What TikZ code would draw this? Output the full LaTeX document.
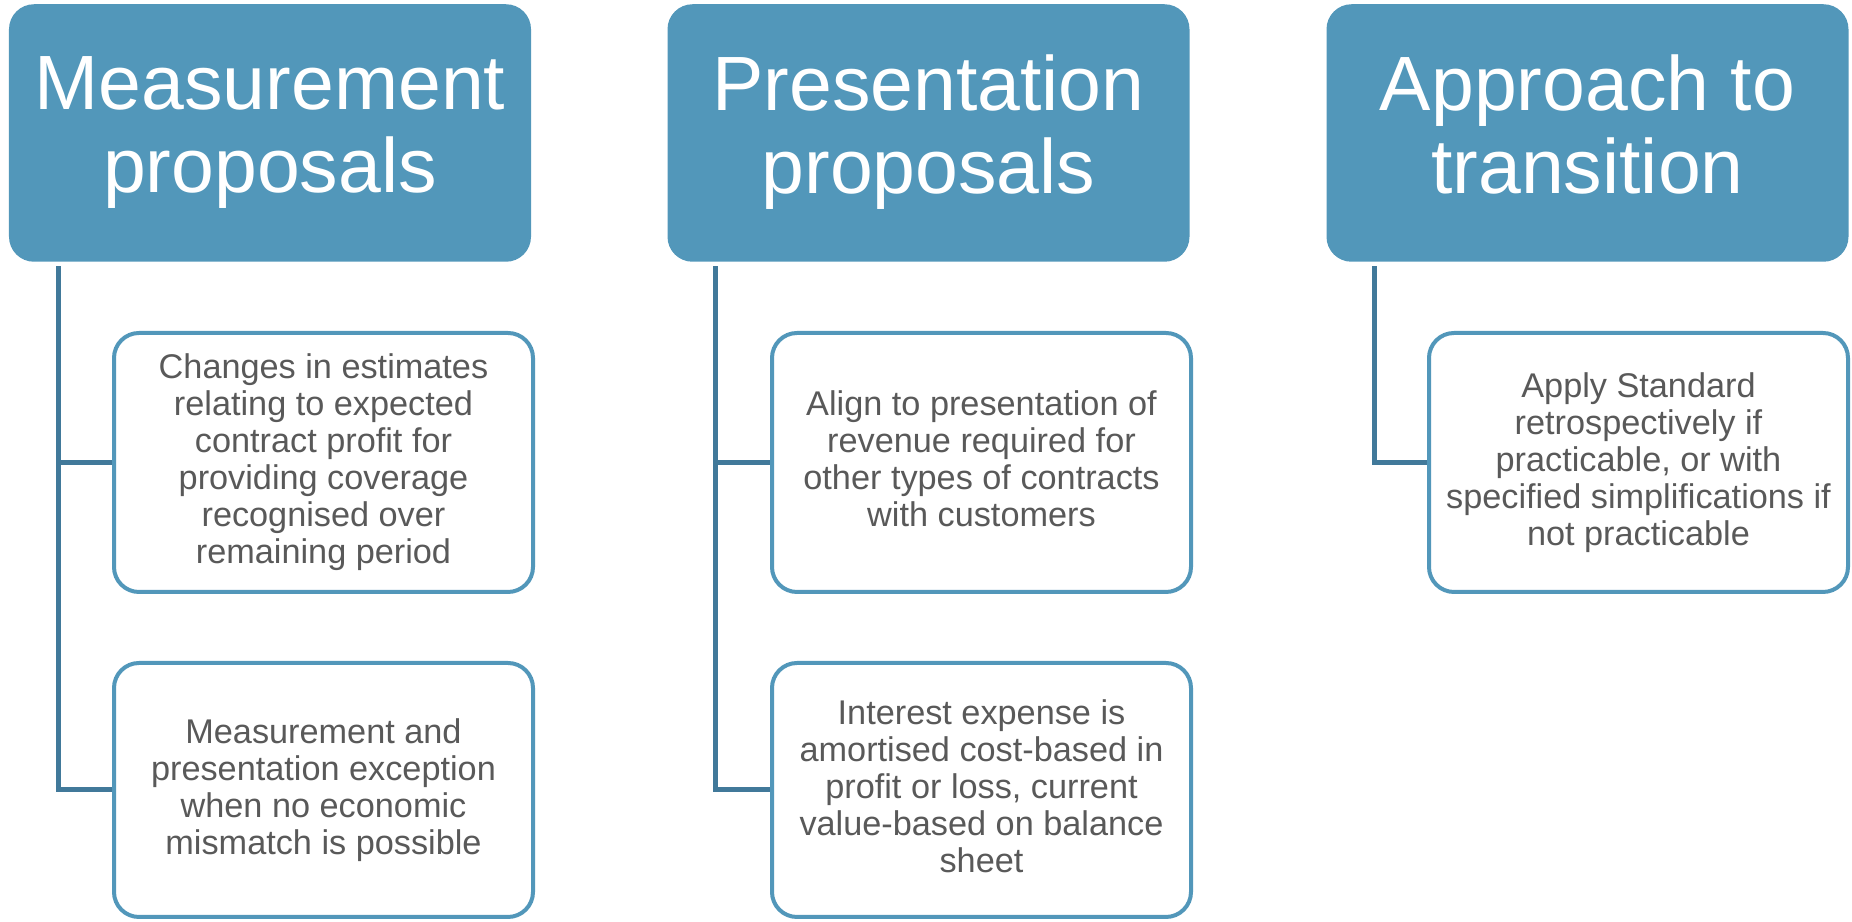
\documentclass[tikz,border=0pt]{standalone}
\usepackage{fontspec}
\setmainfont{Liberation Sans}
\usepackage{tikz}
\usetikzlibrary{positioning}

\definecolor{headblue}{HTML}{5297BA}
\definecolor{linkblue}{HTML}{41799A}
\definecolor{itemgray}{HTML}{595959}

\newcommand{\headstrut}{\rule[-4.8pt]{0pt}{25.2pt}}
\newcommand{\itemstrut}{\rule[-2.1pt]{0pt}{10.8pt}}

\tikzset{
	head/.style = {fill=headblue, rounded corners=0.25cm, text=white, align=center,
		minimum width=5.22cm, minimum height=2.575cm, inner sep=0pt,
		font=\fontsize{21.9}{23.6}\selectfont,
		execute at begin node=\headstrut, execute at end node=\headstrut},
	item/.style = {draw=headblue, line width=0.04cm, rounded corners=0.25cm, fill=white,
		text=itemgray, align=center, minimum width=4.19cm, inner sep=0pt,
		font=\fontsize{9.75}{10.5}\selectfont,
		execute at begin node=\itemstrut, execute at end node=\itemstrut},
	link/.style = {draw=linkblue, line width=0.05cm}
}

\begin{document}
\begin{tikzpicture}
		\useasboundingbox (0, 0) rectangle (18.52, -9.22);

		\node[head] (mh) at (2.70, -1.33) {Measurement\\proposals};
		\node[head] (ph) at (9.285, -1.33) {Presentation\\proposals};
		\node[head] (th) at (15.875, -1.33) {Approach to\\transition};

		\node[item, minimum height=2.59cm] (mc1) at (3.235, -4.625) {Changes in estimates\\relating to expected\\contract profit for\\providing coverage\\recognised over\\remaining period};
		\node[item, minimum height=2.54cm] (mc2) at (3.235, -7.90) {Measurement and\\presentation exception\\when no economic\\mismatch is possible};
		\node[item, minimum height=2.59cm] (pc1) at (9.815, -4.625) {Align to presentation of\\revenue required for\\other types of contracts\\with customers};
		\node[item, minimum height=2.54cm] (pc2) at (9.815, -7.90) {Interest expense is\\amortised cost-based in\\profit or loss, current\\value-based on balance\\sheet};
		\node[item, minimum height=2.59cm] (tc1) at (16.385, -4.625) {Apply Standard\\retrospectively if\\practicable, or with\\specified simplifications if\\not practicable};

		\path[link] ([xshift=0.50cm, yshift=-0.04cm]mh.south west) |- (mc1.west);
		\path[link] ([xshift=0.50cm, yshift=-0.04cm]mh.south west) |- (mc2.west);
		\path[link] ([xshift=0.49cm, yshift=-0.04cm]ph.south west) |- (pc1.west);
		\path[link] ([xshift=0.49cm, yshift=-0.04cm]ph.south west) |- (pc2.west);
		\path[link] ([xshift=0.49cm, yshift=-0.04cm]th.south west) |- (tc1.west);
    \end{tikzpicture}
\end{document}
